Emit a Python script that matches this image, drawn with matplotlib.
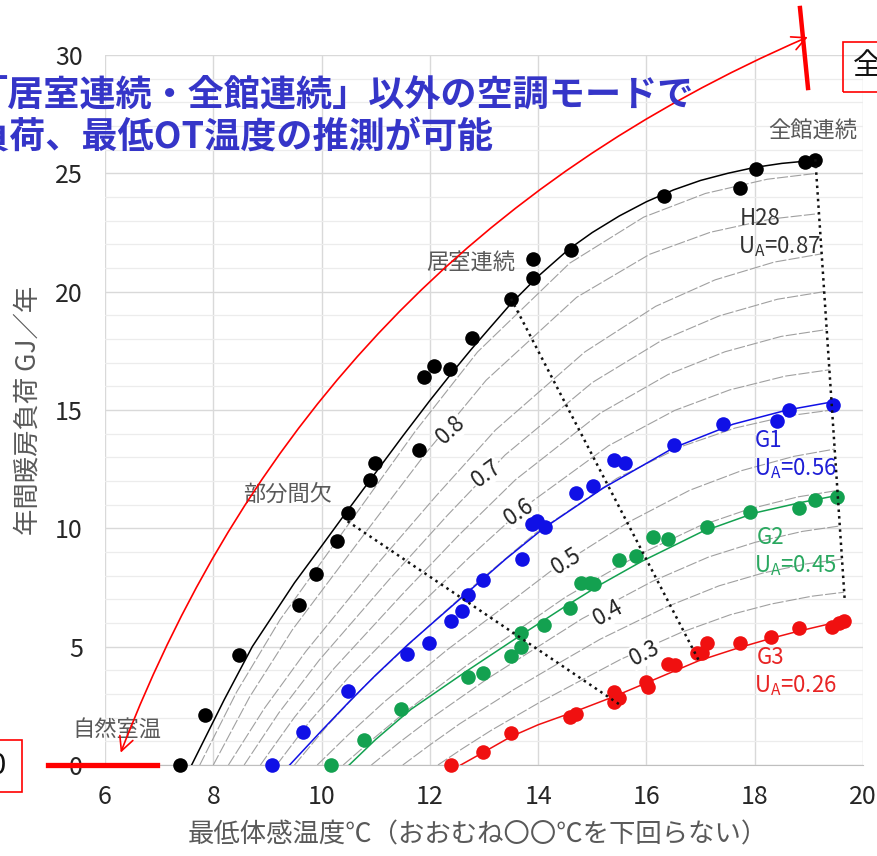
import matplotlib.pyplot as plt
from matplotlib.patches import FancyArrowPatch, Rectangle
from matplotlib.lines import Line2D

plt.rcParams['font.family'] = ['Noto Sans CJK JP', 'DejaVu Sans']

# measured points (lowest operative temp, annual heating load)
h28_x = [7.38, 7.85, 8.47, 9.58, 9.89, 10.28, 10.48, 10.89, 10.98, 11.80, 11.90, 12.08,
         12.38, 12.78, 13.50, 13.90, 13.90, 14.60, 16.32, 17.73, 18.02, 18.93, 19.12]
h28_y = [0.0, 2.13, 4.65, 6.76, 8.05, 9.48, 10.63, 12.04, 12.77, 13.31, 16.40, 16.88,
         16.75, 18.03, 19.70, 20.56, 21.40, 21.78, 24.05, 24.40, 25.20, 25.49, 25.56]
g1_x = [9.09, 9.66, 10.49, 11.57, 11.99, 12.39, 12.59, 12.70, 12.99, 13.70, 13.88, 13.97,
        14.12, 14.69, 15.01, 15.40, 15.61, 16.51, 17.41, 18.42, 18.64, 19.44]
g1_y = [0.0, 1.41, 3.13, 4.69, 5.17, 6.10, 6.52, 7.18, 7.82, 8.70, 10.20, 10.30,
        10.07, 11.48, 11.79, 12.89, 12.77, 13.54, 14.41, 14.55, 15.00, 15.21]
g2_x = [10.17, 10.78, 11.47, 12.70, 12.99, 13.49, 13.69, 13.69, 14.10, 14.58, 14.80, 14.95,
        15.04, 15.49, 15.81, 16.12, 16.40, 17.11, 17.91, 18.81, 19.12, 19.52]
g2_y = [0.0, 1.06, 2.37, 3.72, 3.90, 4.60, 5.00, 5.56, 5.91, 6.62, 7.70, 7.68,
        7.65, 8.66, 8.83, 9.65, 9.53, 10.07, 10.70, 10.85, 11.20, 11.31]
g3_x = [12.39, 12.99, 13.50, 14.58, 14.70, 15.41, 15.50, 15.41, 16.00, 16.02, 16.40, 16.52,
        16.93, 17.02, 17.11, 17.73, 18.31, 18.81, 19.43, 19.55, 19.64]
g3_y = [0.0, 0.54, 1.34, 2.04, 2.15, 3.10, 2.82, 2.68, 3.52, 3.31, 4.27, 4.22,
        4.72, 4.72, 5.14, 5.17, 5.40, 5.77, 5.84, 5.98, 6.10]

# fitted curves
h28_fit_x = [7.6, 8.2, 8.72, 9.5, 10.0, 10.44, 11.03, 11.5, 12.0, 12.4, 12.76, 13.1, 13.5,
             14.0, 14.57, 15.0, 15.5, 16.0, 16.5, 17.0, 17.5, 18.0, 18.5, 19.1]
h28_fit_y = [0.0, 2.75, 5.0, 7.7, 9.25, 10.63, 12.45, 13.9, 15.4, 16.55, 17.55, 18.45, 19.5,
             20.65, 21.8, 22.5, 23.2, 23.8, 24.3, 24.7, 25.0, 25.25, 25.42, 25.55]
g1_fit_x = [9.41, 10.0, 10.5, 11.0, 11.6, 12.2, 12.7, 13.4, 14.1, 15.2, 16.5, 17.6, 18.6, 19.45]
g1_fit_y = [0.0, 1.45, 2.65, 3.8, 5.1, 6.3, 7.3, 8.7, 10.0, 11.7, 13.4, 14.4, 15.0, 15.35]
g2_fit_x = [10.51, 11.0, 11.65, 12.7, 13.69, 14.5, 15.17, 15.91, 17.02, 18.0, 18.87, 19.55]
g2_fit_y = [0.0, 1.08, 2.35, 4.0, 5.5, 6.7, 7.65, 8.6, 9.85, 10.65, 11.1, 11.4]
g3_fit_x = [12.57, 13.0, 13.5, 14.0, 14.67, 15.41, 16.03, 16.96, 17.7, 18.3, 18.8, 19.6]
g3_fit_y = [0.0, 0.55, 1.2, 1.7, 2.25, 2.9, 3.5, 4.4, 4.95, 5.35, 5.65, 6.08]

# UA contour lines (0.85 down to 0.30)
ua_levels = [0.85, 0.80, 0.75, 0.70, 0.65, 0.60, 0.55, 0.50, 0.45, 0.40, 0.35, 0.30]
ua_x = [
    [7.75, 8.43, 9.23, 10.60, 11.74, 12.88, 14.58, 15.95, 17.09, 18.23, 19.14],
    [8.00, 8.67, 9.46, 10.80, 11.92, 13.04, 14.71, 16.06, 17.18, 18.30, 19.19],
    [8.28, 8.94, 9.71, 11.02, 12.12, 13.21, 14.86, 16.17, 17.27, 18.36, 19.24],
    [8.57, 9.21, 9.96, 11.25, 12.32, 13.39, 15.00, 16.28, 17.35, 18.42, 19.28],
    [8.87, 9.50, 10.23, 11.49, 12.53, 13.58, 15.15, 16.40, 17.45, 18.49, 19.33],
    [9.17, 9.78, 10.50, 11.72, 12.74, 13.77, 15.30, 16.52, 17.54, 18.56, 19.38],
    [9.50, 10.10, 10.79, 11.98, 12.98, 13.97, 15.46, 16.65, 17.64, 18.64, 19.43],
    [9.92, 10.49, 11.16, 12.31, 13.27, 14.22, 15.66, 16.80, 17.76, 18.72, 19.48],
    [10.40, 10.95, 11.59, 12.68, 13.60, 14.51, 15.88, 16.97, 17.89, 18.80, 19.53],
    [10.92, 11.44, 12.05, 13.08, 13.95, 14.81, 16.11, 17.15, 18.01, 18.88, 19.57],
    [11.50, 11.99, 12.55, 13.53, 14.34, 15.15, 16.37, 17.34, 18.15, 18.96, 19.61],
    [12.15, 12.60, 13.13, 14.03, 14.78, 15.53, 16.65, 17.55, 18.30, 19.05, 19.65],
]
ua_y = [
    [0.0, 3.08, 6.13, 10.50, 14.13, 17.45, 21.20, 23.15, 24.15, 24.75, 25.00],
    [0.0, 2.87, 5.71, 9.79, 13.16, 16.26, 19.76, 21.58, 22.51, 23.07, 23.30],
    [0.0, 2.38, 4.80, 8.47, 11.38, 14.15, 17.45, 19.38, 20.50, 21.25, 21.60],
    [0.0, 2.20, 4.44, 7.84, 10.54, 13.10, 16.16, 17.94, 18.98, 19.68, 20.00],
    [0.0, 2.02, 4.08, 7.21, 9.70, 12.05, 14.87, 16.50, 17.46, 18.11, 18.40],
    [0.0, 1.84, 3.71, 6.55, 8.80, 10.94, 13.49, 14.98, 15.85, 16.43, 16.70],
    [0.0, 1.65, 3.33, 5.88, 7.91, 9.83, 12.12, 13.46, 14.24, 14.76, 15.00],
    [0.0, 1.27, 2.67, 4.85, 6.51, 8.17, 10.25, 11.61, 12.44, 13.04, 13.35],
    [0.0, 1.10, 2.32, 4.21, 5.66, 7.10, 8.91, 10.09, 10.81, 11.33, 11.60],
    [0.0, 0.96, 2.02, 3.67, 4.93, 6.18, 7.76, 8.79, 9.41, 9.87, 10.10],
    [0.0, 0.83, 1.74, 3.16, 4.25, 5.32, 6.68, 7.57, 8.11, 8.50, 8.70],
    [0.0, 0.69, 1.46, 2.65, 3.56, 4.47, 5.61, 6.35, 6.80, 7.13, 7.30],
]
ua_label_text = ['0.8', '0.7', '0.6', '0.5', '0.4', '0.3']
ua_label_x = [12.39, 13.04, 13.65, 14.52, 15.29, 15.97]
ua_label_y = [14.15, 12.32, 10.70, 8.59, 6.41, 4.72]
ua_label_rot = [43, 36, 34, 32, 29, 27]

# dotted guides between operation modes
mode_lines = [
    ([19.12, 19.66], [25.60, 7.05]),
    ([13.50, 16.96], [19.70, 4.45]),
    ([10.48, 15.54], [10.30, 2.50]),
]

fig = plt.figure(figsize=(8.77, 8.56), dpi=100)
W, H = 877, 856
ax = fig.add_axes([105 / W, 1 - 765 / H, (863 - 105) / W, (765 - 55) / H])
ax.set_xlim(6, 20)
ax.set_ylim(0, 30)
ax.set_xticks(range(6, 21, 2))
ax.set_yticks(range(0, 31, 5))
ax.set_yticks(range(0, 31), minor=True)
ax.grid(which='major', color='#d9d9d9', lw=1.0, zorder=0)
ax.grid(which='minor', axis='y', color='#ececec', lw=0.9, zorder=0)
ax.set_axisbelow(True)
ax.tick_params(which='both', length=0, labelsize=18, labelcolor='#262626')
ax.tick_params(axis='y', pad=16)
ax.tick_params(axis='x', pad=14)
for s in ax.spines.values():
    s.set_visible(False)
ax.spines['bottom'].set_visible(True)
ax.spines['bottom'].set_color('#bfbfbf')

for xs, ys in zip(ua_x, ua_y):
    ax.plot(xs, ys, color='#a0a0a0', lw=0.8, ls=(0, (10, 2)), zorder=1)

for t, x, y, r in zip(ua_label_text, ua_label_x, ua_label_y, ua_label_rot):
    ax.text(x, y, t, rotation=r, fontsize=16, color='#262626', ha='center', va='center',
            rotation_mode='anchor', zorder=2,
            bbox=dict(facecolor='white', edgecolor='none', pad=0.5))

series = [
    (h28_fit_x, h28_fit_y, h28_x, h28_y, '#000000'),
    (g1_fit_x, g1_fit_y, g1_x, g1_y, '#1010E6'),
    (g2_fit_x, g2_fit_y, g2_x, g2_y, '#13A150'),
    (g3_fit_x, g3_fit_y, g3_x, g3_y, '#F01010'),
]
for fx, fy, px, py, c in series:
    ax.plot(fx, fy, color=c, lw=1.1, zorder=3)
    ax.plot(px, py, 'o', color=c, ms=10.5, mec='none', zorder=4, clip_on=False)

for xs, ys in mode_lines:
    ax.plot(xs, ys, color='#111111', lw=1.8, ls=':', zorder=5)

gray = '#595959'
ax.text(19.07, 26.83, '全館連続', fontsize=16, color=gray, ha='center', va='center')
ax.text(12.76, 21.25, '居室連続', fontsize=16, color=gray, ha='center', va='center')
ax.text(9.37, 11.45, '部分間欠', fontsize=16, color=gray, ha='center', va='center')
ax.text(6.22, 1.52, '自然室温', fontsize=16, color=gray, ha='center', va='center')

ax.text(17.72, 23.1, 'H28', fontsize=16, color='#333333', ha='left', va='center')
ax.text(17.70, 21.9, r'U$_\mathregular{A}$=0.87', fontsize=16, color='#333333', ha='left', va='center')
ax.text(18.00, 13.73, 'G1', fontsize=16, color='#1f1fd6', ha='left', va='center')
ax.text(17.98, 12.50, r'U$_\mathregular{A}$=0.56', fontsize=16, color='#1f1fd6', ha='left', va='center')
ax.text(18.03, 9.63, 'G2', fontsize=16, color='#2aa860', ha='left', va='center')
ax.text(17.98, 8.41, r'U$_\mathregular{A}$=0.45', fontsize=16, color='#2aa860', ha='left', va='center')
ax.text(18.03, 4.56, 'G3', fontsize=16, color='#e82525', ha='left', va='center')
ax.text(17.98, 3.34, r'U$_\mathregular{A}$=0.26', fontsize=16, color='#e82525', ha='left', va='center')

fig.text(478 / W, 1 - 835 / H, '最低体感温度℃（おおむね〇〇℃を下回らない）',
         fontsize=19, color=gray, ha='center', va='center')
fig.text(28 / W, 1 - 410 / H, '年間暖房負荷 GJ／年', fontsize=19, color=gray,
         rotation=90, ha='center', va='center')

# slide overlay: headline and red markup
blue = '#3535C8'
fig.text(-28 / W, 1 - 95 / H, '「居室連続・全館連続」以外の空調モードで',
         fontsize=26, fontweight='bold', color=blue, ha='left', va='center')
fig.text(-26 / W, 1 - 138 / H, '負荷、最低OT温度の推測が可能',
         fontsize=26, fontweight='bold', color=blue, ha='left', va='center')

arrow = FancyArrowPatch((6.29, 0.52), (18.98, 30.76), connectionstyle='arc3,rad=-0.21',
                        arrowstyle='<->,head_length=0.5,head_width=0.25', mutation_scale=20,
                        color='#ff0000', lw=1.2, clip_on=False, zorder=10,
                        shrinkA=0, shrinkB=0, transform=ax.transData)
ax.add_patch(arrow)

fig.add_artist(Line2D([800 / W, 808 / W], [1 - 8 / H, 1 - 88 / H], color='#ff0000', lw=3.2))
fig.add_artist(Rectangle((843 / W, 1 - 92 / H), 60 / W, 50 / H, fill=False,
                         edgecolor='#ff0000', lw=1.2))
fig.text(853 / W, 1 - 66 / H, '全館', fontsize=21, color='#111111', ha='left', va='center')
fig.add_artist(Rectangle((-20 / W, 1 - 792 / H), 42 / W, 52 / H, fill=False,
                         edgecolor='#ff0000', lw=1.2))
fig.text(6 / W, 1 - 766 / H, '0', fontsize=21, color='#111111', ha='right', va='center')
fig.add_artist(Line2D([48 / W, 157 / W], [1 - 765 / H, 1 - 765 / H], color='#ff0000', lw=3.8))

fig.savefig('out.png', dpi=100)
